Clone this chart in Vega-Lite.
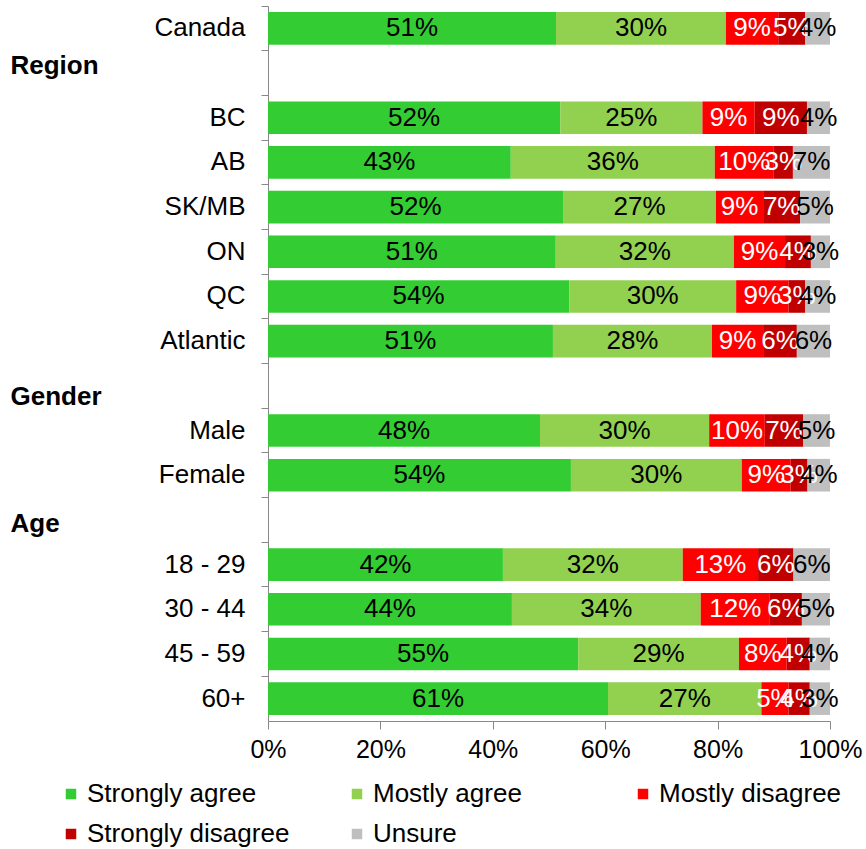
{
  "$schema": "https://vega.github.io/schema/vega-lite/v6.json",
  "width": 562,
  "height": 715,
  "autosize": {"type": "none"},
  "padding": {"left": 268, "top": 6, "right": 36, "bottom": 128},
  "background": "white",
  "config": {"view": {"stroke": null}, "font": "Liberation Sans"},
  "data": {
    "values": [
      {"g": "Canada", "r": "Strongly agree", "k": 1, "v": 51.2, "t": "51%"},
      {"g": "Canada", "r": "Mostly agree", "k": 2, "v": 30.2, "t": "30%"},
      {"g": "Canada", "r": "Mostly disagree", "k": 3, "v": 9.3, "t": "9%"},
      {"g": "Canada", "r": "Strongly disagree", "k": 4, "v": 4.8, "t": "5%"},
      {"g": "Canada", "r": "Unsure", "k": 5, "v": 4.4, "t": "4%"},
      {"g": "BC", "r": "Strongly agree", "k": 1, "v": 52.0, "t": "52%"},
      {"g": "BC", "r": "Mostly agree", "k": 2, "v": 25.3, "t": "25%"},
      {"g": "BC", "r": "Mostly disagree", "k": 3, "v": 9.3, "t": "9%"},
      {"g": "BC", "r": "Strongly disagree", "k": 4, "v": 9.3, "t": "9%"},
      {"g": "BC", "r": "Unsure", "k": 5, "v": 4.1, "t": "4%"},
      {"g": "AB", "r": "Strongly agree", "k": 1, "v": 43.2, "t": "43%"},
      {"g": "AB", "r": "Mostly agree", "k": 2, "v": 36.3, "t": "36%"},
      {"g": "AB", "r": "Mostly disagree", "k": 3, "v": 10.5, "t": "10%"},
      {"g": "AB", "r": "Strongly disagree", "k": 4, "v": 3.4, "t": "3%"},
      {"g": "AB", "r": "Unsure", "k": 5, "v": 6.6, "t": "7%"},
      {"g": "SK/MB", "r": "Strongly agree", "k": 1, "v": 52.5, "t": "52%"},
      {"g": "SK/MB", "r": "Mostly agree", "k": 2, "v": 27.2, "t": "27%"},
      {"g": "SK/MB", "r": "Mostly disagree", "k": 3, "v": 8.4, "t": "9%"},
      {"g": "SK/MB", "r": "Strongly disagree", "k": 4, "v": 6.6, "t": "7%"},
      {"g": "SK/MB", "r": "Unsure", "k": 5, "v": 5.3, "t": "5%"},
      {"g": "ON", "r": "Strongly agree", "k": 1, "v": 51.2, "t": "51%"},
      {"g": "ON", "r": "Mostly agree", "k": 2, "v": 31.7, "t": "32%"},
      {"g": "ON", "r": "Mostly disagree", "k": 3, "v": 9.1, "t": "9%"},
      {"g": "ON", "r": "Strongly disagree", "k": 4, "v": 4.6, "t": "4%"},
      {"g": "ON", "r": "Unsure", "k": 5, "v": 3.4, "t": "3%"},
      {"g": "QC", "r": "Strongly agree", "k": 1, "v": 53.6, "t": "54%"},
      {"g": "QC", "r": "Mostly agree", "k": 2, "v": 29.7, "t": "30%"},
      {"g": "QC", "r": "Mostly disagree", "k": 3, "v": 9.3, "t": "9%"},
      {"g": "QC", "r": "Strongly disagree", "k": 4, "v": 3.0, "t": "3%"},
      {"g": "QC", "r": "Unsure", "k": 5, "v": 4.4, "t": "4%"},
      {"g": "Atlantic", "r": "Strongly agree", "k": 1, "v": 50.7, "t": "51%"},
      {"g": "Atlantic", "r": "Mostly agree", "k": 2, "v": 28.3, "t": "28%"},
      {"g": "Atlantic", "r": "Mostly disagree", "k": 3, "v": 9.1, "t": "9%"},
      {"g": "Atlantic", "r": "Strongly disagree", "k": 4, "v": 6.0, "t": "6%"},
      {"g": "Atlantic", "r": "Unsure", "k": 5, "v": 5.9, "t": "6%"},
      {"g": "Male", "r": "Strongly agree", "k": 1, "v": 48.4, "t": "48%"},
      {"g": "Male", "r": "Mostly agree", "k": 2, "v": 30.1, "t": "30%"},
      {"g": "Male", "r": "Mostly disagree", "k": 3, "v": 9.9, "t": "10%"},
      {"g": "Male", "r": "Strongly disagree", "k": 4, "v": 6.8, "t": "7%"},
      {"g": "Male", "r": "Unsure", "k": 5, "v": 4.8, "t": "5%"},
      {"g": "Female", "r": "Strongly agree", "k": 1, "v": 53.9, "t": "54%"},
      {"g": "Female", "r": "Mostly agree", "k": 2, "v": 30.4, "t": "30%"},
      {"g": "Female", "r": "Mostly disagree", "k": 3, "v": 8.7, "t": "9%"},
      {"g": "Female", "r": "Strongly disagree", "k": 4, "v": 3.0, "t": "3%"},
      {"g": "Female", "r": "Unsure", "k": 5, "v": 4.0, "t": "4%"},
      {"g": "18 - 29", "r": "Strongly agree", "k": 1, "v": 41.8, "t": "42%"},
      {"g": "18 - 29", "r": "Mostly agree", "k": 2, "v": 32.0, "t": "32%"},
      {"g": "18 - 29", "r": "Mostly disagree", "k": 3, "v": 13.4, "t": "13%"},
      {"g": "18 - 29", "r": "Strongly disagree", "k": 4, "v": 6.3, "t": "6%"},
      {"g": "18 - 29", "r": "Unsure", "k": 5, "v": 6.5, "t": "6%"},
      {"g": "30 - 44", "r": "Strongly agree", "k": 1, "v": 43.4, "t": "44%"},
      {"g": "30 - 44", "r": "Mostly agree", "k": 2, "v": 33.6, "t": "34%"},
      {"g": "30 - 44", "r": "Mostly disagree", "k": 3, "v": 12.3, "t": "12%"},
      {"g": "30 - 44", "r": "Strongly disagree", "k": 4, "v": 5.7, "t": "6%"},
      {"g": "30 - 44", "r": "Unsure", "k": 5, "v": 5.0, "t": "5%"},
      {"g": "45 - 59", "r": "Strongly agree", "k": 1, "v": 55.2, "t": "55%"},
      {"g": "45 - 59", "r": "Mostly agree", "k": 2, "v": 28.6, "t": "29%"},
      {"g": "45 - 59", "r": "Mostly disagree", "k": 3, "v": 8.5, "t": "8%"},
      {"g": "45 - 59", "r": "Strongly disagree", "k": 4, "v": 4.1, "t": "4%"},
      {"g": "45 - 59", "r": "Unsure", "k": 5, "v": 3.6, "t": "4%"},
      {"g": "60+", "r": "Strongly agree", "k": 1, "v": 60.5, "t": "61%"},
      {"g": "60+", "r": "Mostly agree", "k": 2, "v": 27.3, "t": "27%"},
      {"g": "60+", "r": "Mostly disagree", "k": 3, "v": 4.8, "t": "5%"},
      {"g": "60+", "r": "Strongly disagree", "k": 4, "v": 3.8, "t": "4%"},
      {"g": "60+", "r": "Unsure", "k": 5, "v": 3.6, "t": "3%"}
    ]
  },
  "encoding": {
    "y": {
      "field": "g",
      "type": "nominal",
      "title": null,
      "scale": {
        "domain": ["Canada", "Region", "BC", "AB", "SK/MB", "ON", "QC", "Atlantic", "Gender", "Male", "Female", "Age", "18 - 29", "30 - 44", "45 - 59", "60+"],
        "paddingInner": 0,
        "paddingOuter": 0
      },
      "axis": {
        "bandPosition": 0,
        "domainColor": "#888888",
        "tickColor": "#888888",
        "tickSize": 7,
        "labelFontSize": 26,
        "labelColor": "black",
        "labelPadding": {"condition": {"test": "indexof(['Region','Gender','Age'], datum.value) >= 0", "value": 251}, "value": 16},
        "labelAlign": {"condition": {"test": "indexof(['Region','Gender','Age'], datum.value) >= 0", "value": "left"}, "value": "right"},
        "labelFontWeight": {"condition": {"test": "indexof(['Region','Gender','Age'], datum.value) >= 0", "value": "bold"}, "value": "normal"},
        "labelOffset": {"condition": [{"test": "datum.value == 'Region'", "value": -7}, {"test": "datum.value == 'Gender'", "value": 11}, {"test": "datum.value == 'Age'", "value": 4}], "value": 0}
      }
    }
  },
  "layer": [
    {
      "mark": {"type": "bar", "height": {"band": 0.73}},
      "encoding": {
        "x": {
          "field": "v",
          "type": "quantitative",
          "stack": "normalize",
          "title": null,
          "scale": {"domain": [0, 1]},
          "axis": {
            "values": [0, 0.2, 0.4, 0.6, 0.8, 1],
            "format": ".0%",
            "grid": false,
            "domainColor": "#888888",
            "tickColor": "#888888",
            "tickSize": 8,
            "labelFontSize": 25,
            "labelPadding": 8,
            "labelColor": "black",
            "labelFlush": false
          }
        },
        "color": {
          "field": "r",
          "type": "nominal",
          "scale": {
            "domain": ["Strongly agree", "Mostly agree", "Mostly disagree", "Strongly disagree", "Unsure"],
            "range": ["#33CC33", "#92D050", "#FF0000", "#C00000", "#BFBFBF"]
          },
          "legend": {
            "title": null,
            "orient": "none",
            "legendX": -210,
            "legendY": 775,
            "direction": "horizontal",
            "columns": 3,
            "gridAlign": "all",
            "columnPadding": 54,
            "rowPadding": 14,
            "symbolType": "square",
            "symbolSize": 110,
            "symbolStrokeWidth": 0,
            "labelFontSize": 26,
            "labelLimit": 400,
            "labelColor": "black",
            "labelOffset": 3
          }
        },
        "order": {"field": "k"}
      }
    },
    {
      "mark": {"type": "text", "fontSize": 26, "align": "center", "baseline": "middle"},
      "encoding": {
        "x": {"field": "v", "type": "quantitative", "stack": "normalize", "bandPosition": 0.5},
        "detail": {"field": "r"},
        "order": {"field": "k"},
        "text": {"field": "t"},
        "color": {"condition": {"test": "datum.k == 3 || datum.k == 4", "value": "white"}, "value": "black"}
      }
    }
  ]
}
